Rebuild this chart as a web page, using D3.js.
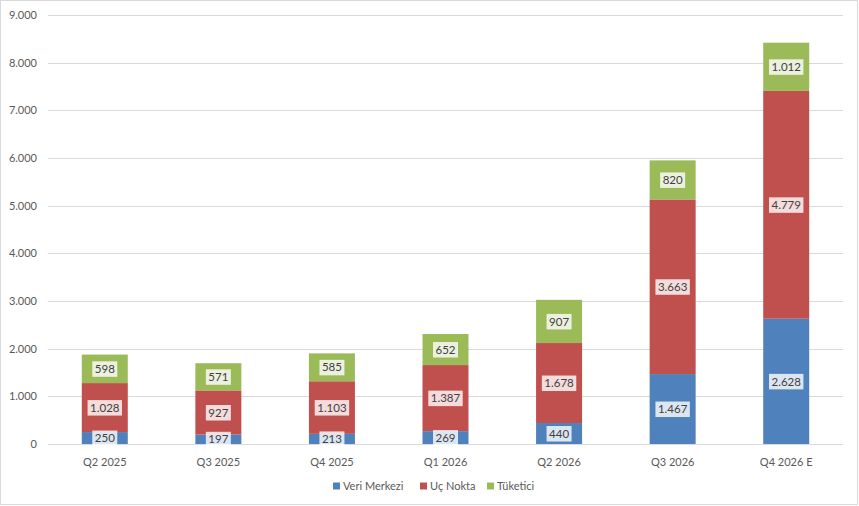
<!DOCTYPE html>
<html>
<head>
<meta charset="utf-8">
<script src="https://cdn.jsdelivr.net/npm/d3@7"></script>
<style>
  body { margin: 0; background: #fff; }
  svg { font-family: Lato, "Open Sans", sans-serif; }
</style>
</head>
<body>
<svg id="chart" width="859" height="506"></svg>
<script>
// Daten
const categories = ["Q2 2025", "Q3 2025", "Q4 2025", "Q1 2026", "Q2 2026", "Q3 2026", "Q4 2026 E"];
const seriesNames = ["Veri Merkezi", "Uç Nokta", "Tüketici"];
const veriMerkezi = [250, 197, 213, 269, 440, 1467, 2628];
const ucNokta = [1028, 927, 1103, 1387, 1678, 3663, 4779];
const tuketici = [598, 571, 585, 652, 907, 820, 1012];
const yTicks = [0, 1000, 2000, 3000, 4000, 5000, 6000, 7000, 8000, 9000];
const colors = ["#4f81bd", "#c0504d", "#9bbb59"];

const svg = d3.select("#chart");
const width = 859, height = 506;
const plotLeft = 48, plotRight = 843, plotTop = 15, plotBottom = 444;

const fmt = v => d3.format(",")(v).replace(/,/g, ".");

// Rahmen
svg.append("rect")
    .attr("x", 0.5).attr("y", 0.5)
    .attr("width", width - 2).attr("height", height - 2)
    .attr("fill", "#fff")
    .attr("stroke", "#d9d9d9");

const x = d3.scaleBand().domain(categories).range([plotLeft, plotRight]);
const y = d3.scaleLinear().domain([0, 9000]).range([plotBottom, plotTop]);
const barWidth = 46;

// Gitterlinien
svg.append("g").selectAll("line")
    .data(yTicks)
    .join("line")
    .attr("x1", plotLeft).attr("x2", plotRight)
    .attr("y1", d => Math.round(y(d)) + 0.5)
    .attr("y2", d => Math.round(y(d)) + 0.5)
    .attr("stroke", "#d9d9d9")
    .attr("stroke-width", 1);

// Y-Achse Beschriftung
svg.append("g").selectAll("text")
    .data(yTicks)
    .join("text")
    .attr("x", 37)
    .attr("y", d => y(d))
    .attr("dy", "0.35em")
    .attr("text-anchor", "end")
    .attr("fill", "#595959")
    .attr("font-size", "11px")
    .text(fmt);

// Gestapelte Daten
const rows = categories.map((c, i) => ({
    cat: c,
    "Veri Merkezi": veriMerkezi[i],
    "Uç Nokta": ucNokta[i],
    "Tüketici": tuketici[i]
}));
const stacked = d3.stack().keys(seriesNames)(rows);

const layers = svg.append("g").selectAll("g")
    .data(stacked)
    .join("g")
    .attr("fill", (d, i) => colors[i]);

layers.selectAll("rect")
    .data(d => d)
    .join("rect")
    .attr("x", d => x(d.data.cat) + x.bandwidth() / 2 - barWidth / 2)
    .attr("width", barWidth)
    .attr("y", d => y(d[1]))
    .attr("height", d => y(d[0]) - y(d[1]));

// Datenbeschriftungen
const labels = svg.append("g");
stacked.forEach(layer => {
    layer.forEach(d => {
        const cx = x(d.data.cat) + x.bandwidth() / 2;
        const cy = (y(d[0]) + y(d[1])) / 2;
        const g = labels.append("g").attr("transform", `translate(${cx},${cy})`);
        const t = g.append("text")
            .attr("text-anchor", "middle")
            .attr("dy", "0.36em")
            .attr("fill", "#404040")
            .attr("font-size", "11.5px")
            .text(fmt(d[1] - d[0]));
        const w = t.node().getComputedTextLength();
        g.insert("rect", "text")
            .attr("x", -w / 2 - 2.5)
            .attr("y", -7.5)
            .attr("width", w + 5)
            .attr("height", 15.5)
            .attr("fill", "#fff")
            .attr("fill-opacity", 0.8);
    });
});

// X-Achse Beschriftung
svg.append("g").selectAll("text")
    .data(categories)
    .join("text")
    .attr("x", d => x(d) + x.bandwidth() / 2)
    .attr("y", 462)
    .attr("dy", "0.35em")
    .attr("text-anchor", "middle")
    .attr("fill", "#595959")
    .attr("font-size", "11px")
    .text(d => d);

// Legende
const legendX = [333, 420, 487];
const legend = svg.append("g").selectAll("g")
    .data(seriesNames)
    .join("g")
    .attr("transform", (d, i) => `translate(${legendX[i]},486)`);
legend.append("rect")
    .attr("x", 0).attr("y", -3.5)
    .attr("width", 7).attr("height", 7)
    .attr("fill", (d, i) => colors[i]);
legend.append("text")
    .attr("x", 10)
    .attr("dy", "0.35em")
    .attr("fill", "#595959")
    .attr("font-size", "11px")
    .text(d => d);
</script>
</body>
</html>
